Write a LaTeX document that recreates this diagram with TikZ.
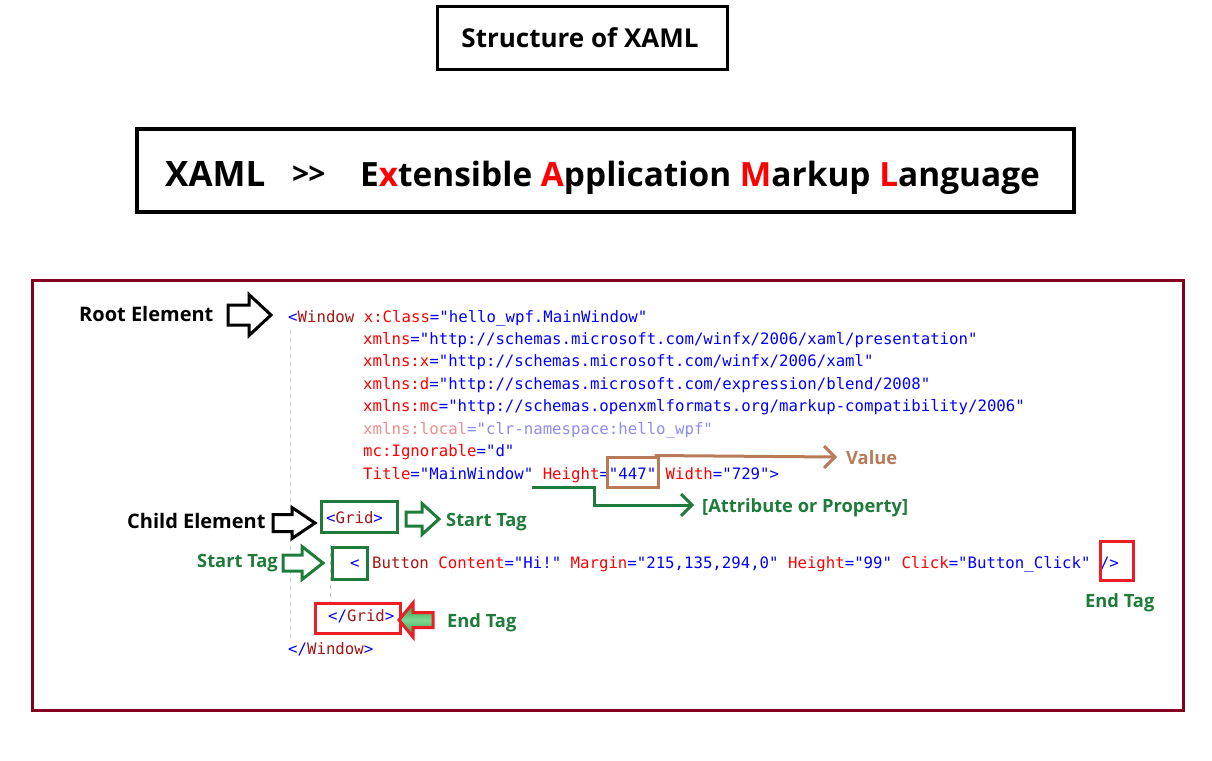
\documentclass[tikz,border=0pt]{standalone}
\usepackage{fontspec}
\setmainfont{Open Sans}
\newfontfamily\codefont{DejaVu Sans Mono}
\usetikzlibrary{arrows.meta}
\definecolor{cblue}{HTML}{0000FF}
\definecolor{cred}{HTML}{FF0000}
\definecolor{celem}{HTML}{A31515}
\definecolor{fadedred}{HTML}{F08C8C}
\definecolor{fadedblue}{HTML}{8C8CF0}
\definecolor{lgreen}{HTML}{1E7B3A}
\definecolor{lbrown}{HTML}{B97A57}
\definecolor{framered}{HTML}{85001F}
\definecolor{boxred}{HTML}{EE1C24}
\definecolor{fillgreen}{HTML}{1E9A3C}
\definecolor{fillgreenl}{HTML}{7ED894}
\newcommand\xB[1]{\textcolor{cblue}{#1}}
\newcommand\xR[1]{\textcolor{cred}{#1}}
\newcommand\xE[1]{\textcolor{celem}{#1}}
\newcommand\blockarr[7]{%
  \draw[#1] ({#2},{#5-#6}) -- ({#3},{#5-#6}) -- ({#3},{#5-#7}) -- ({#4},{#5})
    -- ({#3},{#5+#7}) -- ({#3},{#5+#6}) -- ({#2},{#5+#6}) -- cycle;}
\begin{document}
\begin{tikzpicture}[x=1pt,y=-1pt,
  code/.style={anchor=base west,inner sep=0pt,font=\codefont\fontsize{15.7}{18}\selectfont},
  lbl/.style={anchor=base west,inner sep=0pt,font=\bfseries\fontsize{20}{24}\selectfont},
  glbl/.style={anchor=base west,inner sep=0pt,font=\bfseries\fontsize{18.3}{22}\selectfont},
  tagbox/.style={draw,line width=3pt,inner sep=0pt},
  barrow/.style={draw=black,line width=3pt,fill=white},
  garrow/.style={draw=lgreen,line width=3pt,fill=white},
  gline/.style={draw=lgreen,line width=3pt},
  bline/.style={draw=lbrown,line width=3pt}]
\fill[white] (0,0) rectangle (1212,760);
\useasboundingbox (0,0) rectangle (1212,760);

% titles
\node[draw,line width=3pt,minimum width=290pt,minimum height=63pt,inner sep=0pt] (tbox) at (582.5,38) {};
\node[anchor=base,inner sep=0pt,font=\bfseries\fontsize{26}{30}\selectfont] (title) at (580,48) {Structure of XAML};
\node[draw,line width=3.5pt,minimum width=937pt,minimum height=83pt,inner sep=0pt] (bbox) at (605.5,170.5) {};
\node[anchor=base west,inner sep=0pt,font=\bfseries\fontsize{35}{40}\selectfont] (xaml) at (165,186) {XAML};
\node[anchor=base west,inner sep=0pt,font=\bfseries\fontsize{30}{36}\selectfont] (gtgt) at (292,184) {>\kern-1pt>};
\node[anchor=base west,inner sep=0pt,font=\bfseries\fontsize{33.4}{40}\selectfont] (expand) at (360,186)
  {E\textcolor{cred}{x}tensible \textcolor{cred}{A}pplication \textcolor{cred}{M}arkup \textcolor{cred}{L}anguage};

% frame
\node[draw=framered,line width=3pt,minimum width=1151pt,minimum height=430pt,inner sep=0pt] (frame) at (607.5,495) {};

% guide lines
\coordinate (g1a) at (290,330);
\coordinate (g1b) at (290,640);
\coordinate (g2a) at (330,545);
\coordinate (g2b) at (330,605);
\draw[gray!45,line width=1pt,dash pattern=on 4pt off 4pt] (g1a) -- (g1b);
\draw[gray!45,line width=1pt,dash pattern=on 4pt off 4pt] (g2a) -- (g2b);

% code
\node[code] (c1) at (288,322) {\xB{<}\xE{Window} \xR{x:Class}\xB{="hello\_wpf.MainWindow"}};
\node[code] (c2) at (363,344.4) {\xR{xmlns}\xB{="http://schemas.microsoft.com/winfx/2006/xaml/presentation"}};
\node[code] (c3) at (363,366.9) {\xR{xmlns:x}\xB{="http://schemas.microsoft.com/winfx/2006/xaml"}};
\node[code] (c4) at (363,389.3) {\xR{xmlns:d}\xB{="http://schemas.microsoft.com/expression/blend/2008"}};
\node[code] (c5) at (363,411.7) {\xR{xmlns:mc}\xB{="http://schemas.openxmlformats.org/markup-compatibility/2006"}};
\node[code] (c6) at (363,434.1) {\textcolor{fadedred}{xmlns:local}\textcolor{fadedblue}{="clr-namespace:hello\_wpf"}};
\node[code] (c7) at (363,456.6) {\xR{mc:Ignorable}\xB{="d"}};
\node[code] (c8) at (363,479) {\xR{Title}\xB{="MainWindow"} \xR{Height}\xB{="447"} \xR{Width}\xB{="729">}};
\node[code] (c9) at (326,523) {\xB{<}\xE{Grid}\xB{>}};
\node[code] (c10a) at (350,568) {\xB{<}};
\node[code] (c10) at (372,568) {\xE{Button} \xR{Content}\xB{="Hi!"} \xR{Margin}\xB{="215,135,294,0"} \xR{Height}\xB{="99"} \xR{Click}\xB{="Button\_Click"} \xB{/>}};
\node[code] (c11) at (328,621) {\xB{</}\xE{Grid}\xB{>}};
\node[code] (c12) at (288,654) {\xB{</}\xE{Window}\xB{>}};

% boxes around tags
\node[tagbox,draw=lgreen,minimum width=76pt,minimum height=31pt] (gridbox) at (359,516.5) {};
\node[tagbox,draw=lgreen,minimum width=35pt,minimum height=32pt] (ltbox) at (349.5,563) {};
\node[tagbox,draw=boxred,minimum width=33pt,minimum height=39pt] (closebox) at (1116.5,560.5) {};
\node[tagbox,draw=boxred,minimum width=85pt,minimum height=30pt] (endgridbox) at (357.5,618) {};
\node[tagbox,draw=lbrown,minimum width=51pt,minimum height=30pt] (valbox) at (632.5,472) {};

% labels
\node[lbl] (root) at (79,321) {Root Element};
\node[lbl] (child) at (127,528) {Child Element};
\node[glbl,text=lgreen] (st1) at (446,526) {Start Tag};
\node[glbl,text=lgreen] (st2) at (197,567) {Start Tag};
\node[glbl,text=lgreen] (et1) at (1085,607) {End Tag};
\node[glbl,text=lgreen] (et2) at (447,627) {End Tag};
\node[glbl,text=lbrown] (value) at (846,464) {Value};
\node[glbl,text=lgreen] (attr) at (702,512) {[Attribute or Property]};

% block arrows
\blockarr{barrow}{228}{249}{271}{315}{10}{20.5}
\blockarr{barrow}{273}{292}{315}{523}{8.5}{15.5}
\blockarr{garrow}{406}{422}{439}{519}{7}{15.5}
\blockarr{garrow}{283}{302}{323}{563}{8}{16.5}
\blockarr{draw=boxred,line width=3pt,top color=fillgreen,bottom color=fillgreen,middle color=fillgreenl}{433}{413}{399}{620}{7.5}{17}

% value pointer
\coordinate (vtip) at (835,457);
\draw[bline] ([xshift=-5pt]valbox.north east) -- (vtip);
\draw[bline] (vtip) ++(-11,-11) -- (vtip) -- ++(-11,11);

% attribute pointer
\coordinate (astart) at (532,487);
\coordinate (abend) at (594,487);
\coordinate (atip) at (692,505);
\draw[gline] (astart) -- (abend) |- (atip);
\draw[gline] (atip) ++(-11,-11) -- (atip) -- ++(-11,11);
\end{tikzpicture}
\end{document}
